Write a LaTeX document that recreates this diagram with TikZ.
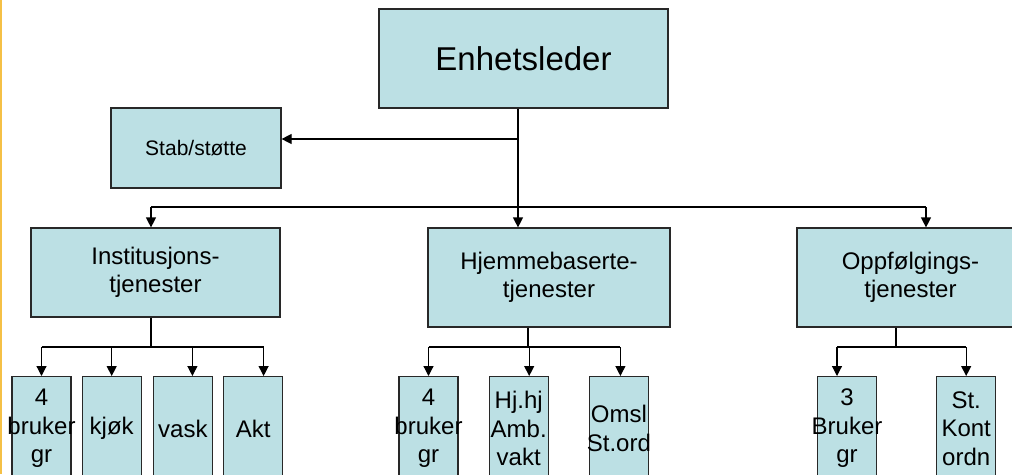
\documentclass[tikz,border=0pt]{standalone}
\usepackage{fontspec}
\setmainfont{Liberation Sans}
\usepackage{tikz}
\usetikzlibrary{positioning,arrows.meta}
\usepackage{xcolor}

\definecolor{boxfill}{RGB}{188,224,228}
\definecolor{boxline}{RGB}{40,40,40}
\definecolor{slideedge}{RGB}{245,192,70}
\newcommand{\ctext}[1]{\makebox[0pt]{#1}}

\tikzset{
  unit/.style={draw=boxline, fill=boxfill, line width=1.2pt, inner sep=0pt, align=center},
  midunit/.style={unit, minimum height=99pt, font=\fontsize{24}{28.5}\selectfont},
  leaf/.style={unit, minimum width=59pt, minimum height=104pt, anchor=north, font=\fontsize{24}{28.5}\selectfont},
  link/.style={line width=1.2pt},
  arr/.style={link, -{Triangle[length=10pt,width=10pt]}}
}

\begin{document}
\begin{tikzpicture}[x=1pt, y=-1pt, node distance=10pt]
            \useasboundingbox (0,0) rectangle (1012,474);
            \clip (0,0) rectangle (1012,474);
            % kant
            \draw[slideedge, line width=2pt] (1,0) -- (1,474);

            % Enhetsleder
            \node[unit, minimum width=289pt, minimum height=99pt, font=\fontsize{33}{40}\selectfont] (leder) at (523.5,58.5) {Enhetsleder};

            % Stab/støtte
            \node[unit, minimum width=170pt, minimum height=80pt, font=\fontsize{21}{25}\selectfont] (stab) at (196,148) {Stab/støtte};
            \coordinate (trunk) at (518,207);
            \draw[arr] ([yshift=9pt]stab.east -| trunk) -- ([yshift=9pt]stab.east);

            % tjenester
            \node[midunit, minimum width=249pt, minimum height=89pt] (inst) at (155.5,272.5) {Institusjons-\\tjenester};
            \node[midunit, minimum width=242pt] (hjem) at (549,277.5) {Hjemmebaserte-\\tjenester};
            \node[midunit, minimum width=227pt] (opp) at (910.5,277.5) {Oppfølgings-\\tjenester};
            \coordinate (busL) at (151,207);
            \coordinate (busR) at (926,207);
            \draw[arr] (leder.south -| trunk) -- (trunk |- hjem.north);
            \draw[link] (busL) -- (busR);
            \draw[arr] (busL) -- (busL |- inst.north);
            \draw[arr] (busR) -- (busR |- opp.north);

            % Institusjonstjenester
            \node[leaf] (i1) at (41.5,376) {4\\\ctext{bruker}\\gr};
            \node[leaf, right=10pt of i1] (i2) {kjøk};
            \node[leaf, right=11pt of i2] (i3) {vask};
            \node[leaf, right=10pt of i3] (i4) {Akt};
            \coordinate (ibus) at (151,347);
            \draw[link] (inst.south -| ibus) -- (ibus);
            \draw[link] (i1.north |- ibus) -- ([xshift=10.5pt]i4.north |- ibus);
            \draw[arr] (i1.north |- ibus) -- (i1.north);
            \draw[arr] (i2.north |- ibus) -- (i2.north);
            \draw[arr] ([xshift=9.5pt]i3.north |- ibus) -- ([xshift=9.5pt]i3.north);
            \draw[arr] ([xshift=10.5pt]i4.north |- ibus) -- ([xshift=10.5pt]i4.north);

            % Hjemmebaserte tjenester
            \node[leaf] (h1) at (428.5,376) {4\\\ctext{bruker}\\gr};
            \node[leaf, right=30pt of h1] (h2) {Hj.hj\\Amb.\\vakt};
            \node[leaf, right=40pt of h2] (h3) {Omsl\\\ctext{St.ord}};
            \coordinate (hbus) at (528,347);
            \draw[link] (hjem.south -| hbus) -- (hbus);
            \draw[link] (h1.north |- hbus) -- ([xshift=1.5pt]h3.north |- hbus);
            \draw[arr] (h1.north |- hbus) -- (h1.north);
            \draw[arr] ([xshift=10.5pt]h2.north |- hbus) -- ([xshift=10.5pt]h2.north);
            \draw[arr] ([xshift=1.5pt]h3.north |- hbus) -- ([xshift=1.5pt]h3.north);

            % Oppfølgingstjenester
            \node[leaf] (o1) at (847,376) {3\\\ctext{Bruker}\\gr};
            \node[leaf, right=59pt of o1] (o2) {St.\\Kont\\ordn};
            \coordinate (obus) at (896,347);
            \draw[link] (opp.south -| obus) -- (obus);
            \draw[link] ([xshift=-10pt]o1.north |- obus) -- (o2.north |- obus);
            \draw[arr] ([xshift=-10pt]o1.north |- obus) -- ([xshift=-10pt]o1.north);
            \draw[arr] (o2.north |- obus) -- (o2.north);
        \end{tikzpicture}
\end{document}
